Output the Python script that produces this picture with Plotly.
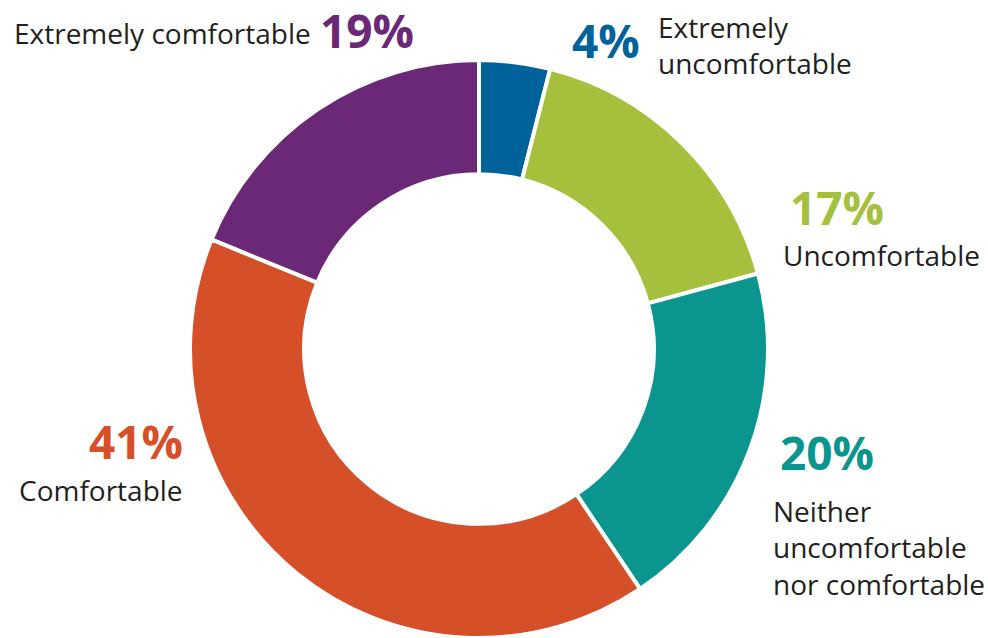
import plotly.graph_objects as go

# Data
categories = ["Extremely uncomfortable", "Uncomfortable", "Neither uncomfortable nor comfortable",
              "Comfortable", "Extremely comfortable"]
values = [4, 17, 20, 41, 19]
pct_labels = ["4%", "17%", "20%", "41%", "19%"]
colors = ["#00629b", "#a4c03d", "#0a968f", "#d55029", "#6b2877"]

W, H = 988, 638
TEXT = "#231f20"
FONT = "Open Sans"

fig = go.Figure()
fig.add_trace(go.Pie(
    labels=categories, values=values, sort=False, direction="clockwise", rotation=0,
    hole=0.605, textinfo="none", hoverinfo="label+percent",
    marker=dict(colors=colors, line=dict(color="white", width=4)),
    domain=dict(x=[187 / W, 771 / W], y=[0, 1 - 60 / H]),
    showlegend=False,
))

def px(x, y):
    return x / W, 1 - y / H

anns = []
def add(text, x, y, size, color, bold=False, xanchor="left", yanchor="middle"):
    ax, ay = px(x, y)
    t = f"<b>{text}</b>" if bold else text
    anns.append(dict(text=t, x=ax, y=ay, xref="paper", yref="paper", xanchor=xanchor,
                     yanchor=yanchor, showarrow=False, align=xanchor,
                     font=dict(family=FONT, size=size, color=color)))

LS, PS = 28, 46
# Extremely comfortable 19%
add(categories[4], 313, 33, LS, TEXT, xanchor="right")
add(pct_labels[4], 318, 30, PS, colors[4], bold=True)
# 4% Extremely uncomfortable
add(pct_labels[0], 570, 40, PS, colors[0], bold=True)
add("Extremely<br>uncomfortable", 656, 45, LS, TEXT)
# 17% Uncomfortable
add(pct_labels[1], 788, 207, PS, colors[1], bold=True)
add(categories[1], 781, 255, LS, TEXT)
# 20% Neither ...
add(pct_labels[2], 778, 452, PS, colors[2], bold=True)
add("Neither<br>uncomfortable<br>nor comfortable", 771, 547, LS, TEXT)
# 41% Comfortable
add(pct_labels[3], 185, 441, PS, colors[3], bold=True, xanchor="right")
add(categories[3], 185, 490, LS, TEXT, xanchor="right")

fig.update_layout(
    width=W, height=H, margin=dict(l=0, r=0, t=0, b=0),
    paper_bgcolor="white", plot_bgcolor="white",
    annotations=anns,
)

fig.write_html("out.html", config={"displayModeBar": False},
               post_script="document.body.style.margin='0';")
